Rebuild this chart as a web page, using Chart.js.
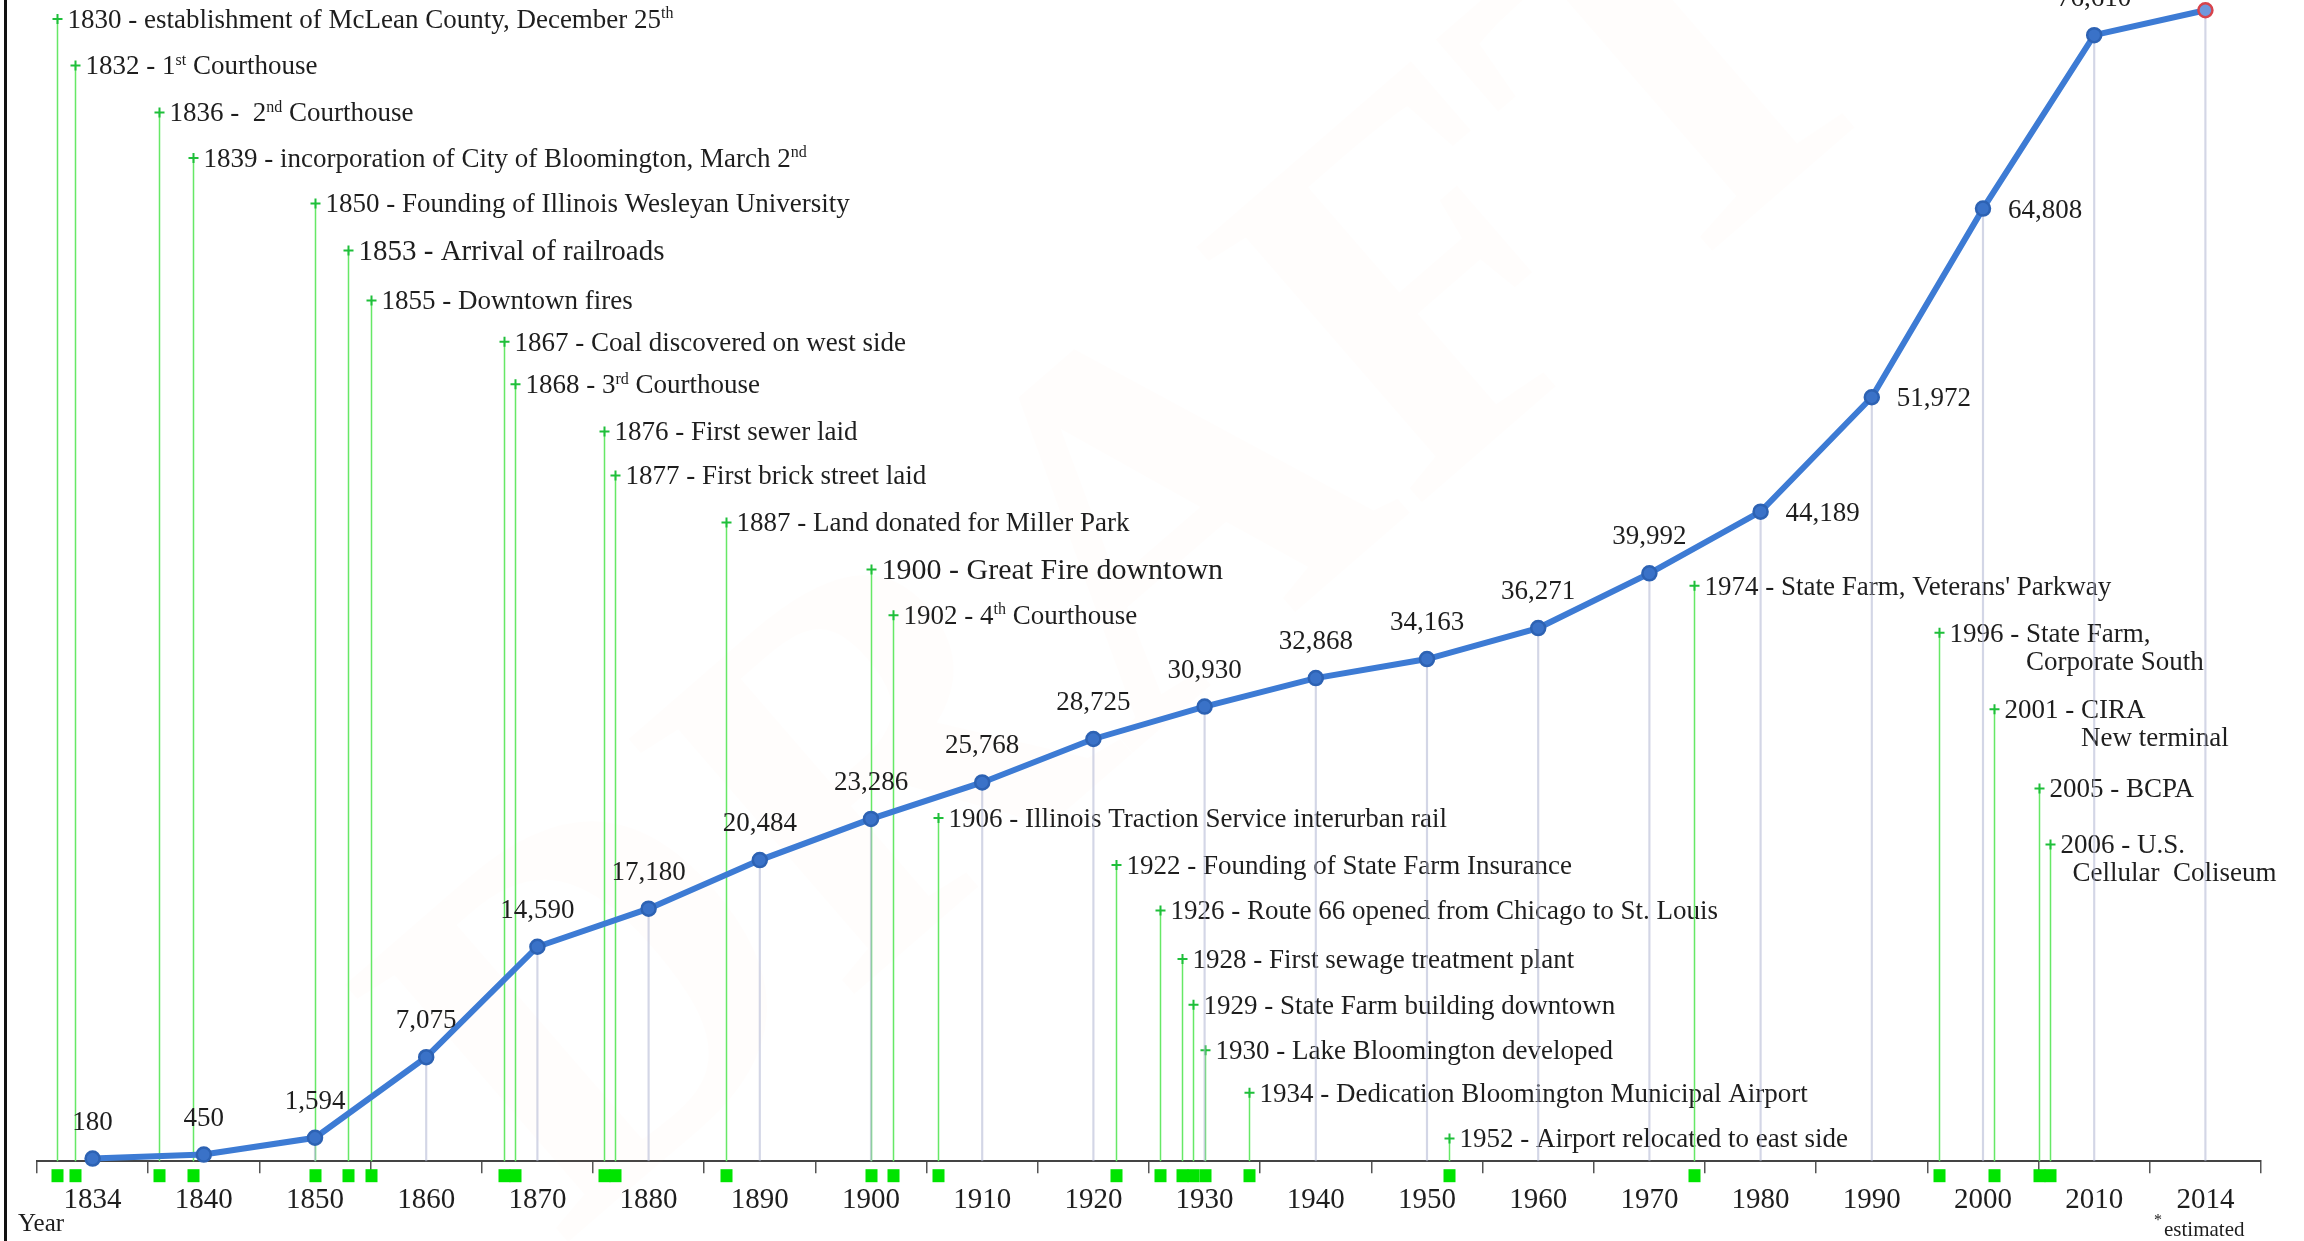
<!DOCTYPE html>
<html>
<head>
<meta charset="utf-8">
<title>Bloomington population and timeline</title>
<script src="https://cdn.jsdelivr.net/npm/chart.js@4.4.1/dist/chart.umd.min.js"></script>
<style>
  html, body { margin: 0; padding: 0; background: #fff; }
  #wrap { width: 2304px; height: 1241px; position: relative; }
</style>
</head>
<body>
<div id="wrap"><canvas id="popChart" width="2304" height="1241"></canvas></div>
<script>
// census columns along the axis (2014 is an estimate)
const yearLabels = ['1834', '1840', '1850', '1860', '1870', '1880', '1890', '1900', '1910', '1920',
                    '1930', '1940', '1950', '1960', '1970', '1980', '1990', '2000', '2010', '2014'];
const population = [180, 450, 1594, 7075, 14590, 17180, 20484, 23286, 25768, 28725,
                    30930, 32868, 34163, 36271, 39992, 44189, 51972, 64808, 76610, 78300];
// where each value label sits relative to its point
const labelSide = ['top', 'top', 'top', 'top', 'top', 'top', 'top', 'top', 'top', 'top',
                   'top', 'top', 'top', 'top', 'top', 'right', 'right', 'right', 'top', 'top'];

// timeline events; '^' starts a superscript, '\n' a second line
const eventYears = [1830, 1832, 1836, 1839, 1850, 1853, 1855, 1867, 1868, 1876, 1877, 1887, 1900, 1902,
                    1906, 1922, 1926, 1928, 1929, 1930, 1934, 1952, 1974, 1996, 2001, 2005, 2006];
const eventNotes = [
    'establishment of McLean County, December 25^th',
    '1^st Courthouse',
    ' 2^nd Courthouse',
    'incorporation of City of Bloomington, March 2^nd',
    'Founding of Illinois Wesleyan University',
    'Arrival of railroads',
    'Downtown fires',
    'Coal discovered on west side',
    '3^rd Courthouse',
    'First sewer laid',
    'First brick street laid',
    'Land donated for Miller Park',
    'Great Fire downtown',
    '4^th Courthouse',
    'Illinois Traction Service interurban rail',
    'Founding of State Farm Insurance',
    'Route 66 opened from Chicago to St. Louis',
    'First sewage treatment plant',
    'State Farm building downtown',
    'Lake Bloomington developed',
    'Dedication Bloomington Municipal Airport',
    'Airport relocated to east side',
    "State Farm, Veterans' Parkway",
    'State Farm,\nCorporate South',
    'CIRA\nNew terminal',
    'BCPA',
    'U.S.\nCellular  Coliseum'
];
// height of each event label, in population units on the y axis
const eventLevels = [77700, 74550, 71350, 68250, 65150, 61950, 58550, 55750, 52850, 49650, 46650, 43450, 40250, 37150,
                     23350, 20150, 17050, 13750, 10650, 7550, 4650, 1550, 39150, 35950, 30750, 25350, 21550];

const SERIF = '"Liberation Serif", "DejaVu Serif", serif';
const TEXT_COLOR = '#1e1e1e';
const eventFontSize = { 1853: 29, 1900: 30 };
// second lines normally line up under the note; this one sits under the year
const secondLineIndent = { 2006: 22 };

// years -> position on the category axis (the timeline is squeezed before 1834)
function eventIndex(year) {
    if (year < 1834) return (year - 1834) * 0.08;
    return 1 + (year - 1840) / 10;
}

function drawRich(ctx, str, x, y, size) {
    const parts = str.split(/(\^\w+)/);
    let cx = x;
    parts.forEach(function(p) {
        if (!p) return;
        if (p[0] === '^') {
            ctx.font = Math.round(size * 0.6) + 'px ' + SERIF;
            ctx.fillText(p.slice(1), cx, y - size * 0.36);
            cx += ctx.measureText(p.slice(1)).width;
        } else {
            ctx.font = size + 'px ' + SERIF;
            ctx.fillText(p, cx, y);
            cx += ctx.measureText(p).width;
        }
    });
    return cx;
}

const timelinePlugin = {
    id: 'timeline',
    beforeDatasetsDraw(chart) {
        const ctx = chart.ctx;
        const xs = chart.scales.x;
        const ys = chart.scales.y;
        const area = chart.chartArea;
        ctx.save();

        // very faint DRAFT watermark
        ctx.translate(1150, 560);
        ctx.rotate(-Math.PI / 4.4);
        ctx.font = 'bold 520px ' + SERIF;
        ctx.textAlign = 'center';
        ctx.textBaseline = 'middle';
        ctx.fillStyle = 'rgba(255, 185, 135, 0.022)';
        ctx.fillText('DRAFT', 0, 0);
        ctx.setTransform(1, 0, 0, 1, 0, 0);

        // left frame line
        ctx.fillStyle = '#111';
        ctx.fillRect(4, 0, 3, chart.height);

        ctx.textAlign = 'left';
        ctx.textBaseline = 'alphabetic';
        eventYears.forEach(function(year, i) {
            const x = Math.round(xs.getPixelForValue(eventIndex(year))) + 0.5;
            const y = ys.getPixelForValue(eventLevels[i]);
            const size = eventFontSize[year] || 27;

            ctx.strokeStyle = '#66e866';
            ctx.lineWidth = 1.5;
            ctx.beginPath();
            ctx.moveTo(x, y);
            ctx.lineTo(x, area.bottom);
            ctx.stroke();

            ctx.strokeStyle = '#1fbf3a';
            ctx.lineWidth = 2;
            ctx.beginPath();
            ctx.moveTo(x - 5, y);
            ctx.lineTo(x + 5, y);
            ctx.moveTo(x, y - 5);
            ctx.lineTo(x, y + 5);
            ctx.stroke();

            ctx.fillStyle = '#00e400';
            ctx.fillRect(x - 6, area.bottom + 8, 12, 13);

            ctx.fillStyle = TEXT_COLOR;
            const lines = eventNotes[i].split('\n');
            const base = y + size * 0.33;
            const head = year + ' - ';
            ctx.font = size + 'px ' + SERIF;
            let noteX = x + 10 + ctx.measureText(head).width;
            if (secondLineIndent[year] !== undefined) noteX = x + secondLineIndent[year];
            drawRich(ctx, head + lines[0], x + 10, base, size);
            if (lines[1]) {
                drawRich(ctx, lines[1], noteX, base + 28, size);
            }
        });
        ctx.restore();
    },
    afterDatasetsDraw(chart) {
        const ctx = chart.ctx;
        const meta = chart.getDatasetMeta(0);
        ctx.save();
        ctx.font = '27px ' + SERIF;
        ctx.fillStyle = TEXT_COLOR;
        ctx.textBaseline = 'alphabetic';
        meta.data.forEach(function(pt, i) {
            const txt = population[i].toLocaleString('en-US');
            if (labelSide[i] === 'right') {
                ctx.textAlign = 'left';
                ctx.fillText(txt, pt.x + 25, pt.y + 9);
            } else {
                ctx.textAlign = 'center';
                ctx.fillText(txt, pt.x, pt.y - 29);
            }
        });
        ctx.restore();
    },
    afterDraw(chart) {
        const ctx = chart.ctx;
        ctx.save();
        ctx.fillStyle = TEXT_COLOR;
        ctx.textAlign = 'left';
        ctx.textBaseline = 'alphabetic';
        ctx.font = '25px ' + SERIF;
        ctx.fillText('Year', 18, 1231);
        ctx.font = '16px ' + SERIF;
        ctx.fillText('*', 2154, 1225);
        ctx.font = '21px ' + SERIF;
        ctx.fillText('estimated', 2164, 1236);
        ctx.restore();
    }
};

const pointFill = population.map((v, i) => i === population.length - 1 ? '#6f98dc' : '#3a72c8');
const pointEdge = population.map((v, i) => i === population.length - 1 ? '#d8434b' : '#2d62b3');

new Chart(document.getElementById('popChart').getContext('2d'), {
    data: {
        labels: yearLabels,
        datasets: [
            {
                type: 'line',
                data: population,
                borderColor: '#3d7bd4',
                borderWidth: 6,
                pointRadius: 7,
                pointBackgroundColor: pointFill,
                pointBorderColor: pointEdge,
                pointBorderWidth: 2.5,
                tension: 0,
                clip: false,
                order: 0
            },
            {
                type: 'bar',
                data: population,
                backgroundColor: 'rgba(175, 180, 210, 0.55)',
                barThickness: 1.5,
                order: 1
            }
        ]
    },
    options: {
        responsive: false,
        animation: false,
        layout: { autoPadding: false, padding: { left: 37, right: 43, top: 0, bottom: 13 } },
        plugins: {
            legend: { display: false },
            tooltip: { enabled: false }
        },
        scales: {
            x: {
                type: 'category',
                offset: true,
                grid: {
                    offset: true,
                    drawOnChartArea: false,
                    drawTicks: true,
                    tickLength: 12,
                    color: '#555',
                    lineWidth: 1.5
                },
                border: { color: '#444', width: 2 },
                ticks: {
                    color: TEXT_COLOR,
                    font: { family: SERIF, size: 29 },
                    padding: 10,
                    autoSkip: false,
                    maxRotation: 0
                }
            },
            y: { display: false, min: 0, max: 79000 }
        }
    },
    plugins: [timelinePlugin]
});
</script>
</body>
</html>
